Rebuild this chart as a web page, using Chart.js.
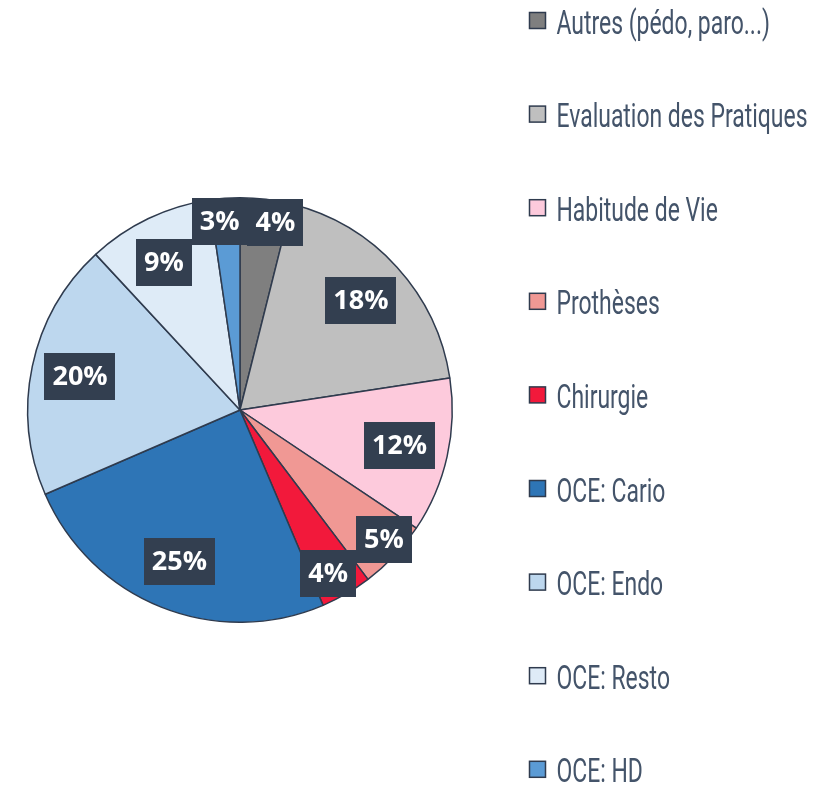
<!DOCTYPE html>
<html>
<head>
<meta charset="utf-8">
<script src="https://cdn.jsdelivr.net/npm/chart.js@4.4.1/dist/chart.umd.min.js"></script>
<style>
  html, body { margin: 0; padding: 0; background: #ffffff; }
  #wrap { width: 830px; height: 786px; position: relative; }
</style>
</head>
<body>
<div id="wrap"><canvas id="c" width="830" height="786"></canvas></div>
<script>
// ---- data ----
const categories = ['Autres (pédo, paro...)', 'Evaluation des Pratiques', 'Habitude de Vie', 'Prothèses', 'Chirurgie', 'OCE: Cario', 'OCE: Endo', 'OCE: Resto', 'OCE: HD'];
const shares = [3.9, 18.7, 11.8, 5.3, 3.9, 24.9, 19.6, 9.6, 2.3];
const shareLabels = ['4%', '18%', '12%', '5%', '4%', '25%', '20%', '9%', '3%'];
const sliceColors = ['#7F7F7F', '#BFBFBF', '#FDCADC', '#F09894', '#F2193B', '#2E75B6', '#BDD7EE', '#DEEBF7', '#5B9BD5'];

const OUTLINE = '#2F3B4E';
const LABEL_BG = '#333F50';
const LEGEND_TEXT = '#44546A';

const boxLabels = {
  id: 'boxLabels',
  afterDatasetsDraw(chart, args, opts) {
    const ctx = chart.ctx;
    const meta = chart.getDatasetMeta(0);
    ctx.save();
    ctx.font = opts.font;
    const boxes = meta.data.map((arc, i) => {
      const p = arc.getProps(['startAngle', 'endAngle', 'outerRadius', 'x', 'y'], true);
      const mid = (p.startAngle + p.endAngle) / 2;
      const span = p.endAngle - p.startAngle;
      const rf = span < 0.4 ? opts.smallRadius : opts.radius;
      const text = opts.labels[i];
      const w = ctx.measureText(text).width + 2 * opts.padX;
      return { cx: p.x + Math.cos(mid) * p.outerRadius * rf, cy: p.y + Math.sin(mid) * p.outerRadius * rf, w, h: opts.height, text };
    });
    for (let pass = 0; pass < 4; pass++) {
      for (let i = 0; i < boxes.length; i++) {
        const a = boxes[i], b = boxes[(i + 1) % boxes.length];
        const ox = (a.w + b.w) / 2 - Math.abs(a.cx - b.cx);
        const oy = (a.h + b.h) / 2 - Math.abs(a.cy - b.cy);
        if (ox > 0 && oy > 0) {
          const s = a.cx < b.cx ? -1 : 1;
          a.cx += s * ox / 2; b.cx -= s * ox / 2;
        }
      }
    }
    boxes.forEach(b => {
      ctx.fillStyle = LABEL_BG;
      ctx.fillRect(Math.round(b.cx - b.w / 2), Math.round(b.cy - b.h / 2), Math.round(b.w), b.h);
      ctx.fillStyle = '#FFFFFF';
      ctx.textAlign = 'center';
      ctx.textBaseline = 'middle';
      ctx.fillText(b.text, b.cx, b.cy + 1);
    });
    ctx.restore();
  }
};

const sideLegend = {
  id: 'sideLegend',
  afterDraw(chart, args, opts) {
    const ctx = chart.ctx;
    const items = chart.options.plugins.legend.labels.generateLabels(chart);
    ctx.save();
    ctx.font = opts.font;
    const maxW = Math.max(...items.map(it => ctx.measureText(it.text).width));
    const sx = opts.textWidth / maxW;
    items.forEach((it, i) => {
      const base = opts.top + i * opts.step;
      ctx.fillStyle = it.fillStyle;
      ctx.strokeStyle = OUTLINE;
      ctx.lineWidth = 1.5;
      ctx.fillRect(opts.x, base - opts.boxOffset, opts.box, opts.box);
      ctx.strokeRect(opts.x, base - opts.boxOffset, opts.box, opts.box);
      ctx.save();
      ctx.translate(opts.x + opts.textGap, base);
      ctx.scale(sx, 1);
      ctx.fillStyle = LEGEND_TEXT;
      ctx.textAlign = 'left';
      ctx.textBaseline = 'alphabetic';
      ctx.fillText(it.text, 0, 0);
      ctx.restore();
    });
    ctx.restore();
  }
};

new Chart(document.getElementById('c'), {
  type: 'pie',
  data: {
    labels: categories,
    datasets: [{
      data: shares,
      backgroundColor: sliceColors,
      borderColor: OUTLINE,
      borderWidth: 1.5
    }]
  },
  options: {
    responsive: false,
    devicePixelRatio: 1,
    animation: false,
    layout: { padding: { left: 27, right: 377, top: 34, bottom: 0 } },
    plugins: {
      legend: { display: false },
      tooltip: { enabled: false },
      boxLabels: { labels: shareLabels, font: 'bold 27px "Open Sans"', padX: 8, height: 47, radius: 0.77, smallRadius: 0.89 },
      sideLegend: { x: 529.5, box: 16, boxOffset: 21, textGap: 27, top: 33.5, step: 93.6, font: '33px Roboto', textWidth: 251 }
    }
  },
  plugins: [boxLabels, sideLegend]
});
</script>
</body>
</html>
